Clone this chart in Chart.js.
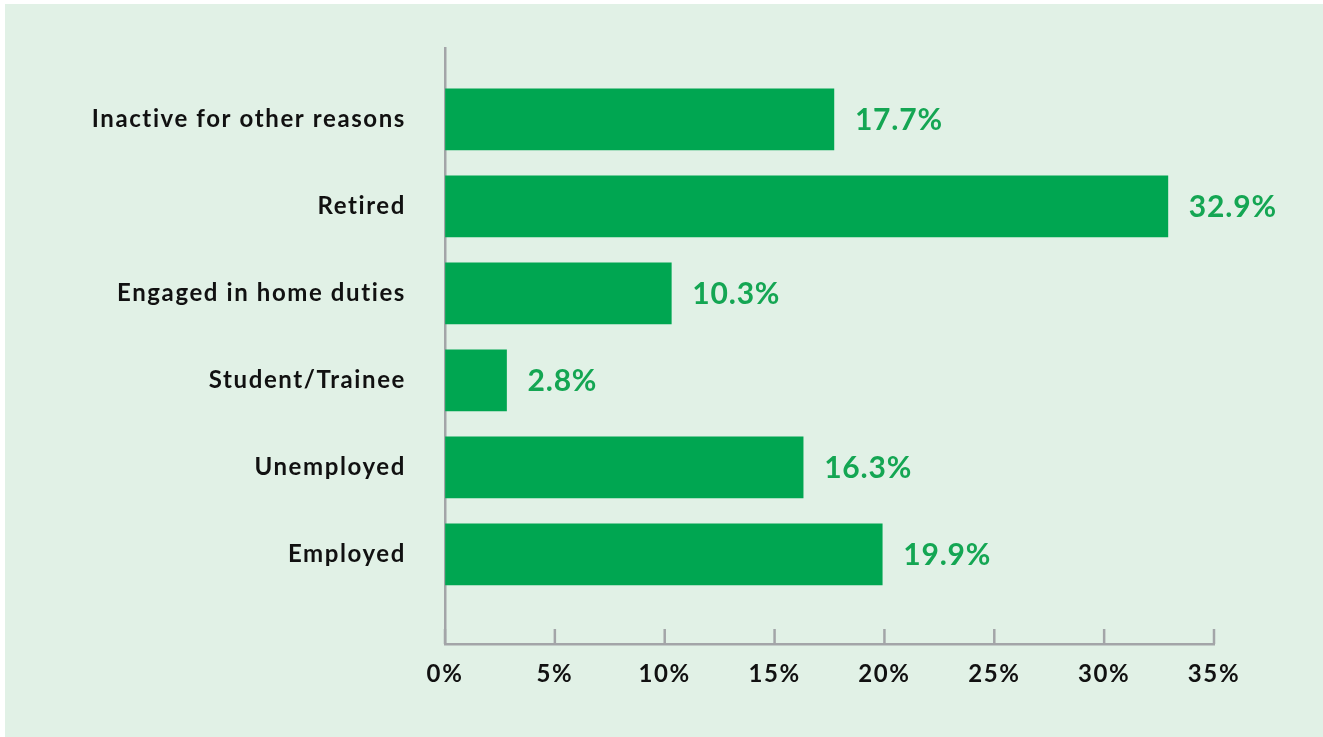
<!DOCTYPE html>
<html>
<head>
<meta charset="utf-8">
<script src="https://cdn.jsdelivr.net/npm/chart.js@4.4.1/dist/chart.umd.min.js"></script>
<style>
    html, body { margin: 0; padding: 0; background: #ffffff; }
    #panel {
        position: absolute; left: 5px; top: 4px; right: 0; bottom: 0;
        background: #e1f1e6;
    }
    #wrap { position: absolute; left: 0; top: 0; width: 1323px; height: 737px; }
</style>
</head>
<body>
<div id="panel"></div>
<div id="wrap"><canvas id="myChart" width="1323" height="737"></canvas></div>
<script>
// estado economico de las personas, en %
const categorias = [
    'Inactive for other reasons',
    'Retired',
    'Engaged in home duties',
    'Student/Trainee',
    'Unemployed',
    'Employed'
];
const valores = [17.7, 32.9, 10.3, 2.8, 16.3, 19.9];
const ejeMin = 0;
const ejeMax = 35;
const ejePaso = 5;

const verde = '#00a651';
const gris = '#a3a5a8';
const fuente = 'Lato, "Noto Sans", sans-serif';

// letras algo mas separadas en todo el lienzo
const espaciado = {
    id: 'espaciado',
    beforeDraw(chart) {
        chart.ctx.letterSpacing = '1.6px';
    }
};

// marcas cortas del eje x, hacia arriba
const marcasEje = {
    id: 'marcasEje',
    afterDraw(chart) {
        const ctx = chart.ctx;
        const x = chart.scales.x;
        const fondo = chart.chartArea.bottom;
        ctx.save();
        ctx.strokeStyle = gris;
        ctx.lineWidth = 2.5;
        x.ticks.forEach(t => {
            const px = x.getPixelForValue(t.value);
            ctx.beginPath();
            ctx.moveTo(px, fondo);
            ctx.lineTo(px, fondo - 15);
            ctx.stroke();
        });
        ctx.restore();
    }
};

// etiqueta con el valor al final de cada barra
const etiquetas = {
    id: 'etiquetas',
    afterDatasetsDraw(chart) {
        const ctx = chart.ctx;
        const meta = chart.getDatasetMeta(0);
        ctx.save();
        ctx.letterSpacing = '0.8px';
        ctx.font = 'bold 30px ' + fuente;
        ctx.fillStyle = '#14a653';
        ctx.textAlign = 'left';
        ctx.textBaseline = 'middle';
        meta.data.forEach((bar, i) => {
            ctx.fillText(valores[i].toFixed(1) + '%', bar.x + 21, bar.y + 1);
        });
        ctx.restore();
    }
};

let graph = document.querySelector('#myChart');

const datas = {
    labels: categorias,
    datasets: [{
        data: valores,
        backgroundColor: verde,
        borderWidth: 0,
        barThickness: 61
    }]
};

const config = {
    type: 'bar',
    data: datas,
    options: {
        indexAxis: 'y',
        responsive: false,
        animation: false,
        layout: { padding: { left: 0, top: 48, right: 109, bottom: 0 } },
        plugins: {
            legend: { display: false },
            tooltip: { enabled: false }
        },
        scales: {
            x: {
                min: ejeMin,
                max: ejeMax,
                afterFit(scale) {
                    scale.height = 93;
                    scale.paddingLeft = 0;
                    scale.paddingRight = 0;
                },
                afterBuildTicks(scale) {
                    scale.ticks = [];
                    for (let v = ejeMin; v <= ejeMax; v += ejePaso) scale.ticks.push({ value: v });
                },
                grid: { drawOnChartArea: false, drawTicks: false },
                border: { display: true, color: gris, width: 2.5 },
                ticks: {
                    padding: 16,
                    color: '#111111',
                    font: { family: fuente, size: 24, weight: 'bold' },
                    callback: v => v + '%'
                }
            },
            y: {
                afterFit(scale) {
                    scale.width = 445;
                    scale.paddingTop = 0;
                    scale.paddingBottom = 0;
                },
                // deja espacio arriba y abajo de las barras
                afterBuildTicks(scale) {
                    scale._startValue = -0.82;
                    scale._valueRange = 6.85;
                },
                grid: { drawOnChartArea: false, drawTicks: false },
                border: { display: true, color: gris, width: 2.5 },
                ticks: {
                    padding: 39,
                    color: '#111111',
                    font: { family: fuente, size: 24, weight: 'bold' }
                }
            }
        }
    },
    plugins: [espaciado, marcasEje, etiquetas]
};

new Chart(graph, config);
</script>
</body>
</html>
